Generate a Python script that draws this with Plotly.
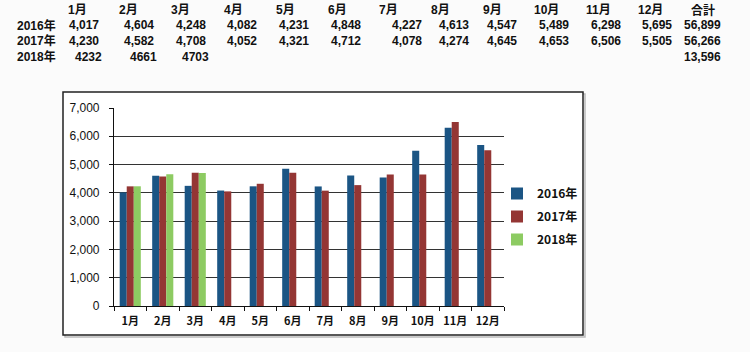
import plotly.graph_objects as go

W, H = 750, 352

months = ["1月", "2月", "3月", "4月", "5月", "6月", "7月", "8月", "9月", "10月", "11月", "12月"]
series_names = ["2016年", "2017年", "2018年"]
v2016 = [4017, 4604, 4248, 4082, 4231, 4848, 4227, 4613, 4547, 5489, 6298, 5695]
v2017 = [4230, 4582, 4708, 4052, 4321, 4712, 4078, 4274, 4645, 4653, 6506, 5505]
v2018 = [4232, 4661, 4703]
totals = [56899, 56266, 13596]
total_label = "合計"
y_ticks = [0, 1000, 2000, 3000, 4000, 5000, 6000, 7000]

colors = ["#1B5584", "#943634", "#8DCB62"]

FONT = "Liberation Sans, Noto Sans CJK JP, sans-serif"
JFONT = "Noto Sans CJK JP, sans-serif"

def px(x):
    return x / W

def py(y):
    return 1 - y / H

fig = go.Figure()
for name, vals, col in zip(series_names, [v2016, v2017, v2018], colors):
    fig.add_trace(go.Bar(
        x=months[:len(vals)], y=vals, name=name, legendgroup=name,
        marker=dict(color=col, line=dict(width=0)),
    ))

# plot area geometry (pixels)
PL, PR, PT, PB = 114, 504, 108, 306

# table text
header_left = [67, 118, 170, 223, 275, 327, 378, 430, 482, 533, 585, 637, 690]
value_right = [100, 155, 207, 258, 310, 362, 423, 470, 518, 570, 622, 673, 722]
row_y = [25, 41, 57]
header_y = 10
tfont = dict(family=FONT, size=12, color="#111", weight="bold")

ann = []
for i, lab in enumerate(months + [total_label]):
    ann.append(dict(x=px(header_left[i]), y=py(header_y), text=lab, showarrow=False,
                    xanchor="left", yanchor="middle", xref="paper", yref="paper",
                    borderpad=0, font=tfont))
for r, (name, vals, tot) in enumerate(zip(series_names, [v2016, v2017, v2018], totals)):
    ry = row_y[r]
    ann.append(dict(x=px(16), y=py(ry), text=name, showarrow=False,
                    xanchor="left", yanchor="middle", xref="paper", yref="paper",
                    borderpad=0, font=tfont))
    for i, v in enumerate(vals):
        txt = f"{v:,}" if r < 2 else f"{v}"
        xr = value_right[i] + (3 if r == 2 else 0)
        ann.append(dict(x=px(xr), y=py(ry), text=txt, showarrow=False,
                        xanchor="right", yanchor="middle", xref="paper", yref="paper",
                        borderpad=0, font=tfont))
    ann.append(dict(x=px(value_right[12]), y=py(ry), text=f"{tot:,}", showarrow=False,
                    xanchor="right", yanchor="middle", xref="paper", yref="paper",
                    borderpad=0, font=tfont))

shapes = [
    dict(type="rect", xref="paper", yref="paper", x0=px(65), x1=px(585), y0=py(337), y1=py(94),
         line=dict(color="#bbbbbb", width=1.5), fillcolor="rgba(0,0,0,0)", layer="below"),
    dict(type="rect", xref="paper", yref="paper", x0=px(63), x1=px(583), y0=py(335), y1=py(92),
         line=dict(color="#222222", width=1.5), fillcolor="white", layer="below"),
]

fig.update_layout(
    width=W, height=H, template="none",
    margin=dict(l=0, r=0, t=0, b=0),
    paper_bgcolor="#fbfbfb", plot_bgcolor="rgba(0,0,0,0)",
    barmode="group", bargap=0.35, bargroupgap=0,
    annotations=ann, shapes=shapes,
    legend=dict(x=px(497), y=py(179), xanchor="left", yanchor="top",
                bgcolor="rgba(0,0,0,0)", tracegroupgap=4, itemwidth=30,
                font=dict(family=JFONT, size=12, color="#111", weight=600)),
    xaxis=dict(domain=[px(PL), px(PR)], automargin=False, type="category",
               showline=True, linecolor="#111", linewidth=1.2,
               ticks="outside", tickson="boundaries", ticklen=4, tickcolor="#111",
               ticklabelstandoff=5, tickangle=0,
               showgrid=False, tickfont=dict(family=JFONT, size=11, color="#111", weight=600)),
    yaxis=dict(domain=[py(PB), py(PT)], automargin=False, range=[0, 7000],
               tickvals=y_ticks, tickformat=",",
               showline=True, linecolor="#111", linewidth=1.2,
               ticks="outside", ticklen=4, tickcolor="#111",
               ticklabelstandoff=7,
               showgrid=True, gridcolor="#333", gridwidth=1.2, zeroline=False,
               tickfont=dict(family=FONT, size=12, color="#111")),
)

fig.write_html("out.html")
